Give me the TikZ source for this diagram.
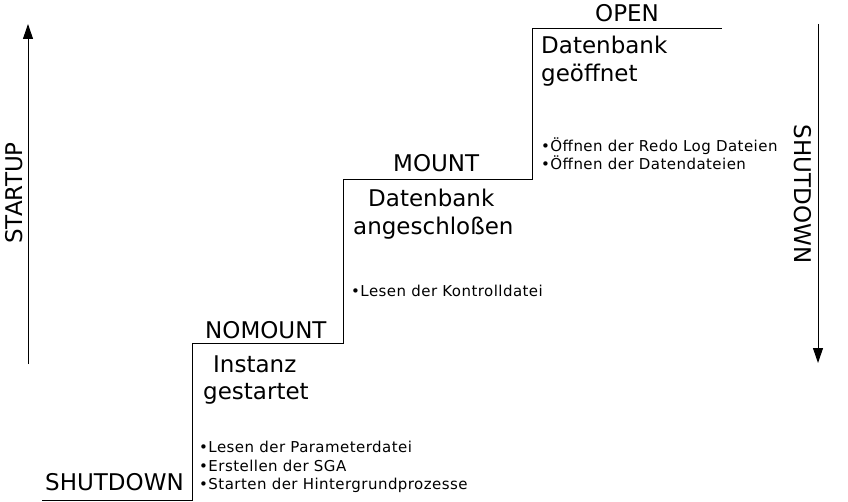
\documentclass[tikz,border=0pt]{standalone}
\usepackage{fontspec}
\setmainfont{DejaVu Sans}
\newfontfamily\spacedfont[LetterSpace=3]{DejaVu Sans}
\usetikzlibrary{arrows.meta}
\begin{document}
\begin{tikzpicture}[x=1pt,y=-1pt,
  big/.style={font=\fontsize{23}{27}\selectfont, inner sep=0pt, align=left},
  small/.style={font=\spacedfont\fontsize{15}{18.3}\selectfont, inner sep=0pt, align=left},
  stair/.style={line width=1pt},
  axis/.style={line width=1pt, -{Triangle[width=10pt,length=15pt]}}]
\useasboundingbox[fill=white] (0,0) rectangle (848,502);
% stairs
\coordinate (s0) at (42,500);
\coordinate (s1) at (192,500);
\coordinate (s2) at (192,343);
\coordinate (s3) at (343,343);
\coordinate (s4) at (343,180);
\coordinate (s5) at (532,180);
\coordinate (s6) at (532,29);
\coordinate (s7) at (722,29);
\draw[stair] (s0) -- (s1) -- (s2) -- (s3) -- (s4) -- (s5) -- (s6) -- (s7);
% axes
\coordinate (a0) at (28,364);
\coordinate (a1) at (28,24);
\coordinate (b0) at (818,24);
\coordinate (b1) at (818,363);
\draw[axis] (a0) -- (a1);
\draw[axis] (b0) -- (b1);
\node[big, rotate=90] (startup) at (14,193) {STARTUP};
\node[big, rotate=-90] (shutdownR) at (803,194) {SHUTDOWN};
% level labels
\node[big, anchor=base west] (shutdown) at (45,490) {SHUTDOWN};
\node[big, anchor=base west] (nomount) at (205,338) {NOMOUNT};
\node[big, anchor=base west] (mount) at (393,172) {MOUNT};
\node[big, anchor=base west] (open) at (595,22) {OPEN};
% state descriptions
\node[big, anchor=base west] (inst1) at (213,372) {Instanz};
\node[big, anchor=base west] (inst2) at (203,399) {gestartet};
\node[big, anchor=base west] (db1) at (368,207) {Datenbank};
\node[big, anchor=base west] (db2) at (353,235) {angeschloßen};
\node[big, anchor=base west] (op1) at (541,54) {Datenbank};
\node[big, anchor=base west] (op2) at (541,82) {geöffnet};
% steps
\node[small, anchor=base west] (n1) at (199,452) {•Lesen der Parameterdatei};
\node[small, anchor=base west] (n2) at (199,471) {•Erstellen der SGA};
\node[small, anchor=base west] (n3) at (199,489) {•Starten der Hintergrundprozesse};
\node[small, anchor=base west] (m1) at (351,297) {•Lesen der Kontrolldatei};
\node[small, anchor=base west] (o1) at (541,152) {•Öffnen der Redo Log Dateien};
\node[small, anchor=base west] (o2) at (541,170) {•Öffnen der Datendateien};
\end{tikzpicture}
\end{document}
